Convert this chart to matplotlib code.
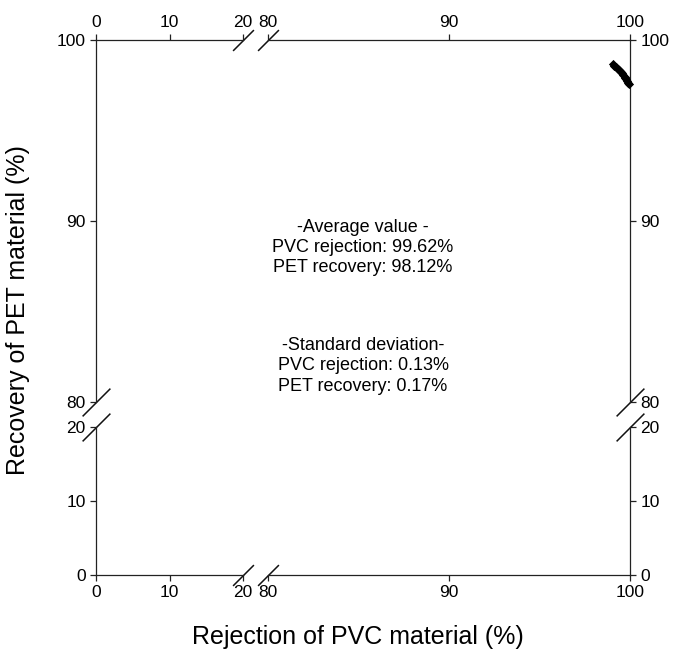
import matplotlib
matplotlib.use("Agg")
import matplotlib.pyplot as plt

plt.rcParams['font.family'] = ['Liberation Sans', 'DejaVu Sans']

# measured runs: PVC rejection vs PET recovery (%)
pvc_rejection = [99.05, 99.12, 99.2, 99.27, 99.33, 99.4, 99.46, 99.52, 99.58,
                 99.64, 99.7, 99.75, 99.8, 99.85, 99.88, 99.92]
pet_recovery = [98.65, 98.58, 98.52, 98.48, 98.42, 98.36, 98.3, 98.22, 98.15,
                98.08, 97.98, 97.9, 97.82, 97.72, 97.62, 97.55]

low_ticks = [0, 10, 20]
high_ticks = [80, 90, 100]

avg_lines = ["-Average value -", "PVC rejection: 99.62%", "PET recovery: 98.12%"]
std_lines = ["-Standard deviation-", "PVC rejection: 0.13%", "PET recovery: 0.17%"]

W, H = 677, 660
fig = plt.figure(figsize=(W / 100, H / 100), dpi=100)


def px_axes(x0, x1, ytop, ybot):
    return fig.add_axes([x0 / W, 1 - ybot / H, (x1 - x0) / W, (ybot - ytop) / H])


x_lo = (96, 243)
x_hi = (268, 630)
y_hi = (40, 402)
y_lo = (427, 575)

ax_tl = px_axes(x_lo[0], x_lo[1], y_hi[0], y_hi[1])
ax_tr = px_axes(x_hi[0], x_hi[1], y_hi[0], y_hi[1])
ax_bl = px_axes(x_lo[0], x_lo[1], y_lo[0], y_lo[1])
ax_br = px_axes(x_hi[0], x_hi[1], y_lo[0], y_lo[1])

for ax in (ax_tl, ax_bl):
    ax.set_xlim(0, 20)
    ax.set_xticks(low_ticks)
for ax in (ax_tr, ax_br):
    ax.set_xlim(80, 100)
    ax.set_xticks(high_ticks)
for ax in (ax_tl, ax_tr):
    ax.set_ylim(80, 100)
    ax.set_yticks(high_ticks)
for ax in (ax_bl, ax_br):
    ax.set_ylim(0, 20)
    ax.set_yticks(low_ticks)

# which sides each panel shows: (left, right, top, bottom)
sides = {
    ax_tl: (True, False, True, False),
    ax_tr: (False, True, True, False),
    ax_bl: (True, False, False, True),
    ax_br: (False, True, False, True),
}
for ax, (l, r, t, b) in sides.items():
    ax.patch.set_alpha(0)
    for name, on in zip(["left", "right", "top", "bottom"], [l, r, t, b]):
        ax.spines[name].set_visible(on)
        ax.spines[name].set_color("#222222")
        ax.spines[name].set_linewidth(0.9)
    ax.tick_params(direction="out", length=4, width=0.9, color="#222222",
                   labelsize=12.5, left=l, labelleft=l, right=r, labelright=r,
                   top=t, labeltop=t, bottom=b, labelbottom=b)

ax_tr.scatter(pvc_rejection, pet_recovery, marker="D", s=22, color="black",
              linewidths=0, zorder=5, clip_on=False)

# break marks where the spines stop
kw = dict(marker=[(-1, -1), (1, 1)], linestyle="none", color="#111111",
          mec="#111111", mew=1.1, clip_on=False)
ax_tl.plot([1], [1], transform=ax_tl.transAxes, markersize=15, **kw)
ax_tr.plot([0], [1], transform=ax_tr.transAxes, markersize=15, **kw)
ax_bl.plot([1], [0], transform=ax_bl.transAxes, markersize=15, **kw)
ax_br.plot([0], [0], transform=ax_br.transAxes, markersize=15, **kw)
ax_tl.plot([0], [0], transform=ax_tl.transAxes, markersize=20, **kw)
ax_bl.plot([0], [1], transform=ax_bl.transAxes, markersize=20, **kw)
ax_tr.plot([1], [0], transform=ax_tr.transAxes, markersize=20, **kw)
ax_br.plot([1], [1], transform=ax_br.transAxes, markersize=20, **kw)

for i, s in enumerate(avg_lines):
    fig.text(363 / W, 1 - (228 + 20 * i) / H, s, ha="center", va="center", fontsize=13)
for i, s in enumerate(std_lines):
    fig.text(363 / W, 1 - (345 + 21 * i) / H, s, ha="center", va="center", fontsize=13)

fig.text(358 / W, 1 - 637 / H, "Rejection of PVC material (%)", ha="center",
         va="center", fontsize=18)
fig.text(18 / W, 1 - 310 / H, "Recovery of PET material (%)", ha="center",
         va="center", rotation=90, fontsize=18)

fig.savefig("out.png", dpi=100)
